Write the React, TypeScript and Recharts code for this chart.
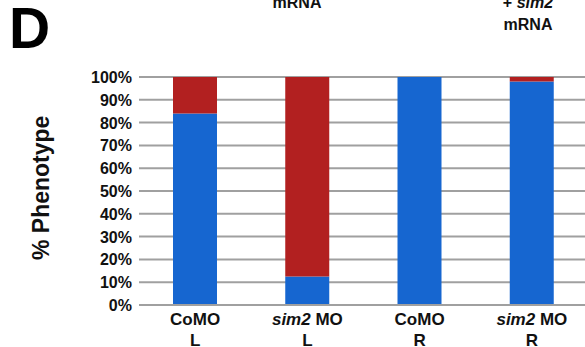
import React from "react";
import { BarChart, Bar, XAxis, YAxis, CartesianGrid } from "recharts";

const categories = ["CoMO|L", "sim2 MO|L", "CoMO|R", "sim2 MO|R"];
const normalPct = [84, 12.5, 100, 98];
const defectPct = [16, 87.5, 0, 2];
const yTicks = [0, 10, 20, 30, 40, 50, 60, 70, 80, 90, 100];

const data = categories.map((c, i) => ({ name: c, normal: normalPct[i], defect: defectPct[i] }));

const FONT = "'Liberation Sans', Arial, sans-serif";

const XTick = (props: any) => {
  const { x, y, payload } = props;
  const [l1, l2] = String(payload.value).split("|");
  const italic = l1.startsWith("sim2");
  return (
    <g>
      <text x={x} y={y + 12} textAnchor="middle" fontFamily={FONT} fontWeight="bold" fontSize={17} fill="#111">
        {italic ? (
          <>
            <tspan fontStyle="italic">sim2</tspan>
            <tspan>{l1.slice(4)}</tspan>
          </>
        ) : (
          l1
        )}
      </text>
      <text x={x} y={y + 33} textAnchor="middle" fontFamily={FONT} fontWeight="bold" fontSize={17} fill="#111">
        {l2}
      </text>
    </g>
  );
};

const YTick = (props: any) => {
  const { x, y, payload } = props;
  return (
    <text x={x + 1} y={y + 6} textAnchor="end" fontFamily={FONT} fontWeight="bold" fontSize={16} fill="#111">
      {payload.value}%
    </text>
  );
};

const topStyle: React.CSSProperties = {
  position: "absolute",
  width: 100,
  textAlign: "center",
  fontFamily: FONT,
  fontWeight: "bold",
  fontSize: 16,
  color: "#111",
  lineHeight: "22px",
};

export default function App() {
  return (
    <>
      <style>{"html,body{margin:0;padding:0;overflow:hidden;background:#fff}"}</style>
      <div style={{ position: "relative", width: 585, height: 347, overflow: "hidden", background: "#fff" }}>
        <div style={{ position: "absolute", left: 9, top: -5, fontFamily: FONT, fontWeight: "bold", fontSize: 57, color: "#000", lineHeight: "normal" }}>
          D
        </div>
        <div style={{ ...topStyle, left: 247, top: -8 }}>mRNA</div>
        <div style={{ ...topStyle, left: 478, top: -8 }}>
          + <i>sim2</i>
          <br />
          mRNA
        </div>
        <div style={{ position: "absolute", left: 0, top: 0 }}>
          <BarChart
            width={600}
            height={347}
            data={data}
            margin={{ top: 77, right: 12, bottom: 0, left: 0 }}
            barSize={44}
          >
            <CartesianGrid vertical={false} stroke="#a0a0a0" strokeWidth={2} />
            <XAxis
              dataKey="name"
              height={42}
              tick={<XTick />}
              tickLine={false}
              axisLine={{ stroke: "#a0a0a0", strokeWidth: 2 }}
              interval={0}
            />
            <YAxis
              width={139}
              domain={[0, 100]}
              ticks={yTicks}
              interval={0}
              tick={<YTick />}
              tickLine={false}
              axisLine={false}
              tickMargin={2}
              label={{
                value: "% Phenotype",
                angle: -90,
                position: "insideLeft",
                dx: 36,
                dy: 69,
                style: { fontFamily: FONT, fontWeight: "bold", fontSize: 23, fill: "#111" },
              }}
            />
            <Bar dataKey="normal" stackId="a" fill="#1666d0" isAnimationActive={false} />
            <Bar dataKey="defect" stackId="a" fill="#b22020" isAnimationActive={false} />
          </BarChart>
        </div>
      </div>
    </>
  );
}
